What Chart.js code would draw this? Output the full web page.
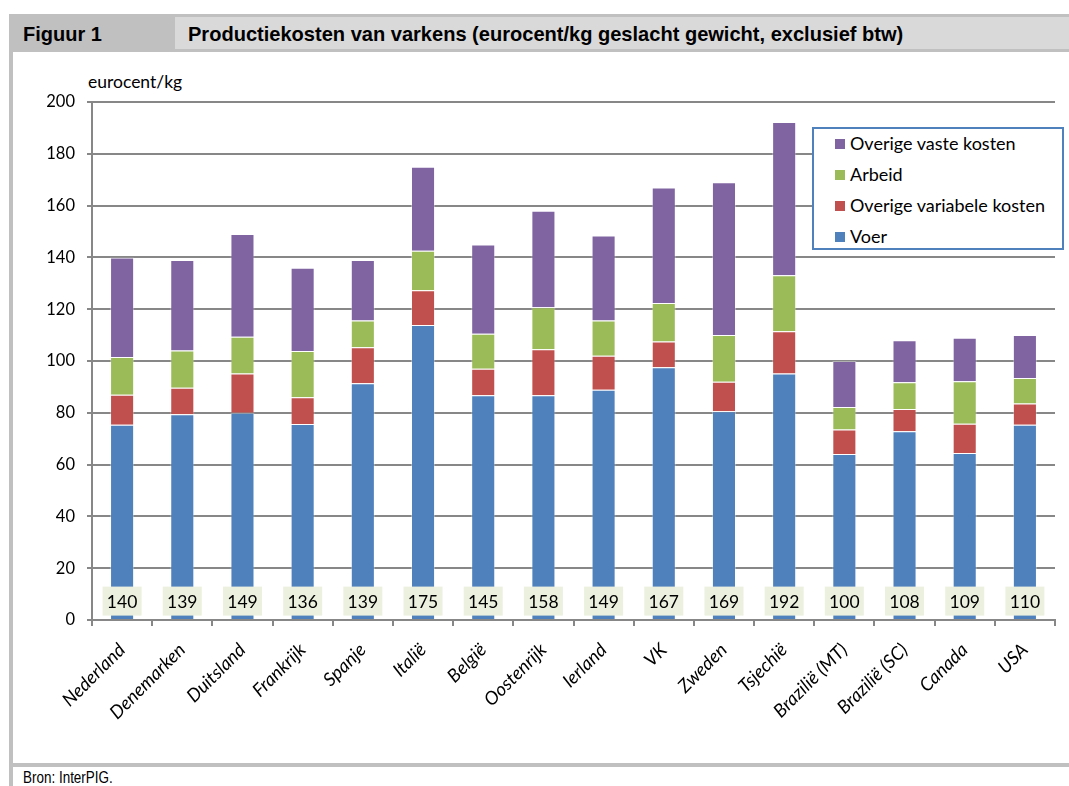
<html><head><script src="https://cdn.jsdelivr.net/npm/chart.js@4.4.3/dist/chart.umd.min.js"></script>
<style>
body { margin:0; background:#fff; width:1069px; height:786px; position:relative; overflow:hidden; font-family:Lato, "Noto Sans", sans-serif; }
.narrow { font-family:"Liberation Sans", Arial, sans-serif; display:inline-block; white-space:nowrap; transform-origin:0 50%; }
#hdr { position:absolute; left:9px; top:14px; width:1060px; height:38px; background:#c0c0c0; }
#fig { position:absolute; left:23px; top:22px; font-size:21px; font-weight:bold; color:#000; }
#ttl { position:absolute; left:175px; top:17px; width:894px; height:32px; background:#d9d9d9; }
#ttlt { position:absolute; left:188px; top:22px; font-size:21px; font-weight:bold; }
#lb { position:absolute; left:9px; top:52px; width:4px; height:734px; background:#c0c0c0; }
#bb { position:absolute; left:9px; top:763px; width:1060px; height:4px; background:#c0c0c0; }
#src { position:absolute; left:23px; top:769px; font-size:16px; }
#ytitle { position:absolute; left:88px; top:71px; font-size:17.5px; }
#wrap { position:absolute; left:15px; top:54px; width:1050px; height:708px; }
#legend { position:absolute; left:812px; top:127px; width:248px; height:119px; border:2px solid #4f81bd; background:#fff; font-size:18px; }
#legend div { position:absolute; left:21px; height:22px; line-height:22px; white-space:nowrap; }
#legend i { display:inline-block; width:10px; height:10px; margin-right:5px; vertical-align:1px; }
</style></head>
<body>
<div id="hdr"></div>
<div id="ttl"></div>
<div id="fig" class="narrow">Figuur 1</div>
<div id="ttlt" class="narrow">Productiekosten van varkens (eurocent/kg geslacht gewicht, exclusief btw)</div>
<div id="lb"></div>
<div id="bb"></div>
<div id="src" class="narrow">Bron: InterPIG.</div>
<div id="ytitle">eurocent/kg</div>
<div id="wrap"><canvas id="mychart" width="1050" height="708"></canvas></div>
<div id="legend"></div>
<script>
landen = ["Nederland","Denemarken","Duitsland","Frankrijk","Spanje","Italië","België","Oostenrijk","Ierland","VK","Zweden","Tsjechië","Brazilië (MT)","Brazilië (SC)","Canada","USA"]
voer      = [75.4, 79.4, 80.0, 75.7, 91.4, 113.9, 86.8, 86.8, 88.9, 97.6, 80.6, 95.2, 64.1, 72.9, 64.5, 75.4]
variabel  = [11.6, 10.3, 15.2, 10.3, 13.9, 13.4, 10.2, 17.7, 13.1, 9.9, 11.4, 16.3, 9.5, 8.6, 11.3, 8.2]
arbeid    = [14.5, 14.4, 14.2, 17.9, 10.3, 15.3, 13.5, 16.3, 13.6, 14.9, 18.0, 21.6, 8.6, 10.3, 16.4, 9.8]
vast      = [38.5, 34.9, 39.6, 32.1, 23.4, 32.4, 34.5, 37.2, 32.9, 44.6, 59.0, 59.2, 17.8, 16.2, 16.8, 16.6]
totalen   = [140, 139, 149, 136, 139, 175, 145, 158, 149, 167, 169, 192, 100, 108, 109, 110]
yticks    = [0, 20, 40, 60, 80, 100, 120, 140, 160, 180, 200]

// squeeze header texts to a narrow look
function squeeze(id, w) {
  el = document.querySelector(id)
  el.style.transform = "scaleX(" + (w / el.offsetWidth) + ")"
}
squeeze("#fig", 79); squeeze("#ttlt", 715); squeeze("#src", 90)

series = [
  { label:"Voer", data:voer, color:"#4f81bd" },
  { label:"Overige variabele kosten", data:variabel, color:"#c0504d" },
  { label:"Arbeid", data:arbeid, color:"#9bbb59" },
  { label:"Overige vaste kosten", data:vast, color:"#8064a2" }
]

// legend, top to bottom in reverse order like Excel
lg = document.querySelector("#legend")
series.slice().reverse().forEach(function(s, k) {
  d = document.createElement("div")
  d.style.top = (3 + k*31) + "px"
  d.innerHTML = '<i style="background:' + s.color + '"></i>' + s.label
  lg.appendChild(d)
})

totalLabels = {
  id: "totalLabels",
  afterDatasetsDraw: function(chart) {
    ctx = chart.ctx; xs = chart.scales.x; ys = chart.scales.y
    ctx.save()
    ctx.font = "17.5px Lato"
    ctx.textAlign = "center"; ctx.textBaseline = "middle"
    for (i = 0; i < totalen.length; i++) {
      x = xs.getPixelForValue(i); y = ys.getPixelForValue(7.3)
      ctx.fillStyle = "#ebf1de"
      ctx.fillRect(x - 19.5, y - 14.5, 39, 29)
      ctx.fillStyle = "#000"
      ctx.fillText(String(totalen[i]), x, y + 1)
    }
    ctx.restore()
  }
}

config = {
  type: "bar",
  data: {
    labels: landen,
    datasets: series.map(function(s) {
      return { label:s.label, data:s.data, backgroundColor:s.color, borderColor:"rgba(255,255,255,0.35)", borderWidth:1,
               barPercentage:0.4, categoryPercentage:1.0 }
    })
  },
  options: {
    responsive: false, animation: false,
    layout: { padding: { top:48, right:10, left:0, bottom:0 } },
    plugins: { legend: { display:false }, tooltip: { enabled:false } },
    scales: {
      x: {
        stacked: true,
        grid: { drawOnChartArea:false, drawTicks:true, tickLength:6, color:"#878787", lineWidth:2 },
        border: { color:"#878787", width:2 },
        ticks: { minRotation:45, maxRotation:45, padding:13, color:"#000", font:{ family:"Lato", size:18.5, style:"italic" } },
        afterFit: function(s) { s.height = 142 }
      },
      y: {
        stacked: true, min:0, max:200,
        afterBuildTicks: function(s) { s.ticks = yticks.map(function(v) { return { value:v } }) },
        grid: { color:"#878787", lineWidth:2, tickLength:5 },
        border: { color:"#878787", width:2 },
        ticks: { padding:12, color:"#000", font:{ family:"Lato", size:16.5 } },
        afterFit: function(s) { s.width = 77 }
      }
    }
  },
  plugins: [totalLabels]
}
new Chart(document.querySelector("#mychart"), config)
</script>
</body></html>
